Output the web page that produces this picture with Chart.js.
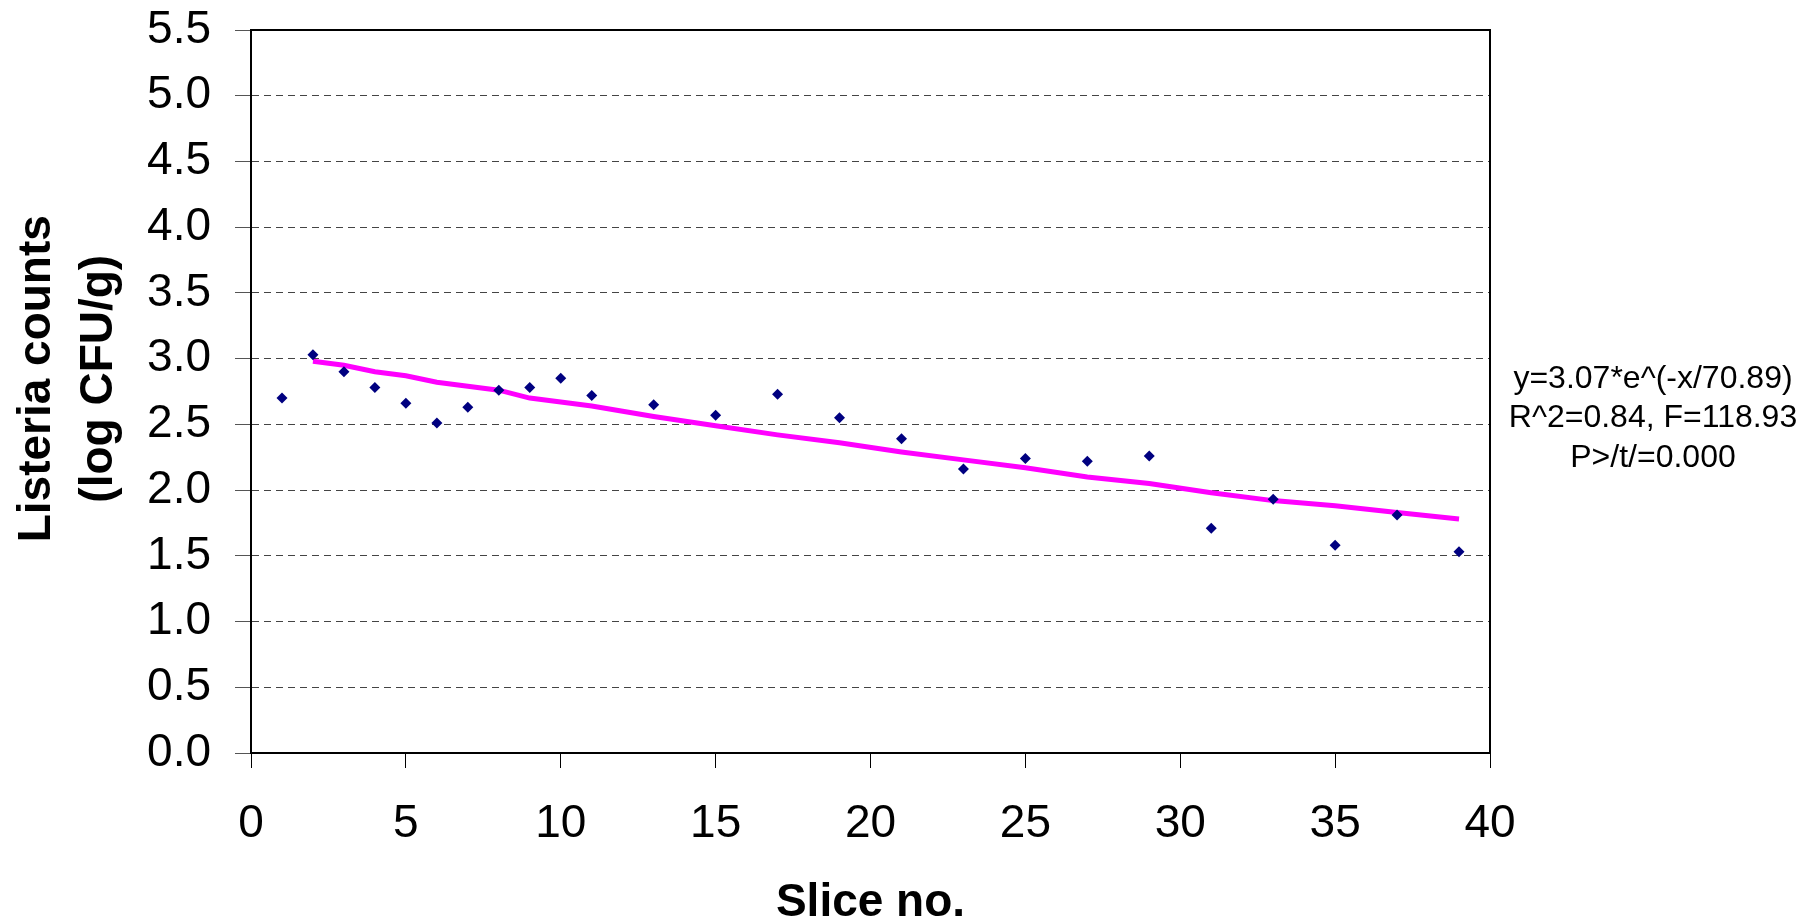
<!DOCTYPE html>
<html lang="en">
<head>
  <meta charset="UTF-8" />
  <title>Listeria counts by slice</title>
  <script src="https://cdn.jsdelivr.net/npm/chart.js"></script>
  <style>
    html, body {
      margin: 0;
      padding: 0;
      background: #ffffff;
    }
    .chart-box {
      width: 1816px;
      height: 923px;
    }
  </style>
</head>
<body>
  <div class="chart-box">
    <canvas id="listeriaChart" width="1816" height="923"></canvas>
  </div>

  <script>
    // measured counts per slice
    const sliceNo = [1, 2, 3, 4, 5, 6, 7, 8, 9, 10, 11, 13, 15, 17, 19, 21, 23, 25, 27, 29, 31, 33, 35, 37, 39];
    const listeriaLog = [2.70, 3.03, 2.90, 2.78, 2.66, 2.51, 2.63, 2.76, 2.78, 2.85, 2.72, 2.65, 2.57, 2.73, 2.55,
                         2.39, 2.16, 2.24, 2.22, 2.26, 1.71, 1.93, 1.58, 1.81, 1.53];

    // fitted curve as drawn on the chart
    const fitSlice = [2, 3, 4, 5, 6, 7, 8, 9, 10, 11, 13, 15, 17, 19, 21, 23, 25, 27, 29, 31, 33, 35, 37, 39];
    const fitLog = [2.98, 2.95, 2.90, 2.87, 2.82, 2.79, 2.76, 2.70, 2.67, 2.64, 2.56, 2.49, 2.42, 2.36,
                    2.29, 2.23, 2.17, 2.10, 2.05, 1.98, 1.92, 1.88, 1.83, 1.78];

    const xTickLabels = ['0', '5', '10', '15', '20', '25', '30', '35', '40'];
    const yTickLabels = ['0.0', '0.5', '1.0', '1.5', '2.0', '2.5', '3.0', '3.5', '4.0', '4.5', '5.0', '5.5'];

    const fitNote = ['y=3.07*e^(-x/70.89)', 'R^2=0.84, F=118.93', 'P>/t/=0.000'];

    const FONT = "'Liberation Sans', Arial, sans-serif";

    // top/right frame and the fit statistics text
    const framePlugin = {
      id: 'frame',
      afterDraw(chart) {
        const { ctx, chartArea: a } = chart;
        ctx.save();
        ctx.strokeStyle = '#000';
        ctx.lineWidth = 2;
        ctx.beginPath();
        ctx.moveTo(a.left, a.top);
        ctx.lineTo(a.right, a.top);
        ctx.lineTo(a.right, a.bottom);
        ctx.stroke();

        ctx.fillStyle = '#000';
        ctx.font = '32px ' + FONT;
        ctx.textAlign = 'center';
        ctx.textBaseline = 'middle';
        fitNote.forEach((line, i) => {
          ctx.fillText(line, 1653, 379 + i * 39.5);
        });
        ctx.restore();
      }
    };

    const points = sliceNo.map((x, i) => ({ x: x, y: listeriaLog[i] }));
    const fitPoints = fitSlice.map((x, i) => ({ x: x, y: fitLog[i] }));

    new Chart(document.getElementById('listeriaChart'), {
      type: 'scatter',
      data: {
        datasets: [
          {
            label: 'Listeria counts',
            data: points,
            pointStyle: 'rectRot',
            pointRadius: 5.5,
            backgroundColor: '#000080',
            borderColor: '#000080',
            borderWidth: 0,
            order: 1
          },
          {
            type: 'line',
            label: 'Fit',
            data: fitPoints,
            borderColor: '#ff00ff',
            borderWidth: 5,
            pointRadius: 0,
            tension: 0,
            fill: false,
            order: 2
          }
        ]
      },
      options: {
        responsive: false,
        devicePixelRatio: 1,
        animation: false,
        layout: {
          padding: { left: 0, right: 326, top: 30, bottom: 0 }
        },
        plugins: {
          legend: { display: false },
          tooltip: { enabled: false }
        },
        scales: {
          x: {
            type: 'linear',
            min: 0,
            max: 40,
            afterBuildTicks(scale) {
              scale.ticks = xTickLabels.map(v => ({ value: Number(v) }));
            },
            afterFit(scale) {
              scale.height = 170;
            },
            ticks: {
              color: '#000',
              font: { family: FONT, size: 46 },
              padding: 29,
              maxRotation: 0,
              autoSkip: false,
              callback: (value, i) => xTickLabels[i]
            },
            grid: {
              drawOnChartArea: false,
              drawTicks: true,
              tickLength: 15,
              tickColor: '#000',
              tickWidth: 1
            },
            border: { color: '#000', width: 2 },
            title: {
              display: true,
              text: 'Slice no.',
              color: '#000',
              font: { family: FONT, size: 46, weight: 'bold', lineHeight: 0.87 },
              padding: { top: 0, bottom: 0 }
            }
          },
          y: {
            type: 'linear',
            min: 0,
            max: 5.5,
            afterBuildTicks(scale) {
              scale.ticks = yTickLabels.map(v => ({ value: Number(v) }));
            },
            afterFit(scale) {
              scale.width = 251;
              // let the plot reach the top margin instead of reserving room for the 5.5 label
              scale.paddingTop = 0;
              scale.paddingBottom = 0;
            },
            ticks: {
              color: '#000',
              font: { family: FONT, size: 46 },
              padding: 24,
              autoSkip: false,
              callback: (value, i) => yTickLabels[i]
            },
            grid: {
              color: ctx => (ctx.tick && (ctx.tick.value === 0 || ctx.tick.value === 5.5)) ? 'rgba(0,0,0,0)' : '#444',
              lineWidth: 1,
              tickLength: 16,
              tickColor: '#555',
              tickWidth: 1,
              tickBorderDash: [1, 0]
            },
            border: { color: '#000', width: 2, dash: [7, 5] },
            title: {
              display: true,
              // leading spaces nudge the rotated title up a little, as in the source
              text: ['\u00a0\u00a0Listeria counts', '\u00a0\u00a0(log CFU/g)'],
              color: '#000',
              font: { family: FONT, size: 46, weight: 'bold', lineHeight: 1.35 },
              padding: { top: 6, bottom: 0 }
            }
          }
        }
      },
      plugins: [framePlugin]
    });
  </script>
</body>
</html>
